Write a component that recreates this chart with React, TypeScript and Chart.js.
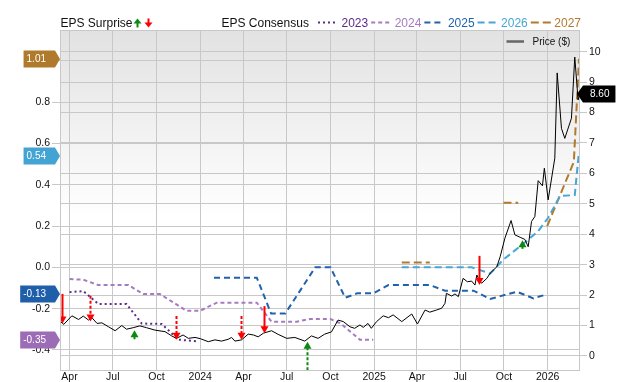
import React, { useEffect, useRef } from "react";
import { Chart, registerables } from "chart.js";

Chart.register(...registerables);

const FONT = "'Liberation Sans', Arial, Helvetica, sans-serif";

// ---------- axes ----------
const xStart = "2023-03-12";
const xEnd = "2026-03-10";
const xTickDates = [
  "2023-04-01", "2023-07-01", "2023-10-01", "2024-01-01",
  "2024-04-01", "2024-07-01", "2024-10-01", "2025-01-01",
  "2025-04-01", "2025-07-01", "2025-10-01", "2026-01-01",
];
const xTickLabels = ["Apr", "Jul", "Oct", "2024", "Apr", "Jul", "Oct", "2025", "Apr", "Jul", "Oct", "2026"];

const epsMin = -0.497;
const epsMax = 1.149;
const epsTicks = [-0.4, -0.2, 0, 0.2, 0.4, 0.6, 0.8, 1.0];

const priceMin = -0.46;
const priceMax = 10.71;
const priceTicks = [0, 1, 2, 3, 4, 5, 6, 7, 8, 9, 10];

// ---------- price ($) ----------
const priceDates = [
  "2023-03-13", "2023-03-20", "2023-04-06", "2023-04-20", "2023-04-30", "2023-05-11", "2023-05-18",
  "2023-05-29", "2023-06-08", "2023-06-22", "2023-07-06", "2023-07-20", "2023-07-30", "2023-08-13",
  "2023-08-27", "2023-09-10", "2023-09-28", "2023-10-19", "2023-11-02", "2023-11-12", "2023-11-26",
  "2023-12-07", "2023-12-21", "2024-01-01", "2024-01-18", "2024-02-01", "2024-02-15", "2024-02-29",
  "2024-03-07", "2024-03-14", "2024-03-28", "2024-04-11", "2024-04-22", "2024-05-02", "2024-05-13",
  "2024-05-30", "2024-06-13", "2024-07-01", "2024-07-18", "2024-08-08", "2024-08-22", "2024-09-05",
  "2024-09-19", "2024-10-03", "2024-10-17", "2024-10-28", "2024-11-11", "2024-11-21", "2024-12-02",
  "2024-12-09", "2024-12-19", "2024-12-26", "2025-01-06", "2025-01-20", "2025-01-31", "2025-02-10",
  "2025-02-28", "2025-03-21", "2025-04-02", "2025-04-18", "2025-04-28", "2025-05-12", "2025-05-23",
  "2025-05-30", "2025-06-02", "2025-06-13", "2025-06-20", "2025-06-27", "2025-07-07", "2025-07-16",
  "2025-07-25", "2025-08-01", "2025-08-05", "2025-08-10", "2025-08-15", "2025-08-26", "2025-09-02",
  "2025-09-16", "2025-09-23", "2025-10-03", "2025-10-16", "2025-10-24", "2025-11-04", "2025-11-14",
  "2025-11-21", "2025-11-28", "2025-12-05", "2025-12-12", "2025-12-21", "2025-12-25", "2026-01-02",
  "2026-01-16", "2026-01-21", "2026-01-30", "2026-02-06", "2026-02-20", "2026-02-27", "2026-03-06",
  "2026-03-09",
];
const priceValues = [
  1.13, 1.04, 1.32, 1.2, 1.31, 1.18, 1.26,
  1.07, 1.09, 0.96, 0.83, 1.0, 0.88, 0.93,
  0.99, 0.93, 0.85, 0.8, 0.66, 0.58, 0.69,
  0.58, 0.61, 0.57, 0.47, 0.53, 0.49, 0.55,
  0.61, 0.49, 0.53, 0.72, 0.69, 0.63, 0.75,
  0.83, 0.71, 0.58, 0.61, 0.49, 0.66, 0.58,
  0.72, 0.79, 1.18, 1.13, 0.96, 0.91, 1.02,
  0.94, 1.07, 0.91, 1.13, 1.32, 1.26, 1.35,
  1.13, 1.38, 1.05, 1.51, 1.44, 1.51, 1.57,
  1.73, 2.06, 1.97, 2.04, 1.95, 2.55, 2.44,
  2.46, 2.33, 2.66, 2.49, 2.39, 2.55, 2.72,
  2.93, 3.26, 3.87, 4.45, 3.98, 3.9, 3.83,
  3.59, 4.42, 4.58, 5.76, 5.59, 6.17, 5.13,
  6.5, 9.3, 7.48, 7.15, 7.81, 9.82, 8.41,
  8.6,
];

// ---------- EPS consensus by fiscal year ----------
const cons2023Dates = ["2023-04-01", "2023-04-30", "2023-06-01", "2023-07-30", "2023-08-31", "2023-10-12", "2023-11-16", "2023-12-25"];
const cons2023Values = [-0.12, -0.115, -0.178, -0.178, -0.272, -0.274, -0.35, -0.358];

const cons2024Dates = [
  "2023-04-01", "2023-04-30", "2023-06-01", "2023-08-03", "2023-09-03", "2023-10-08", "2023-12-03",
  "2024-01-01", "2024-02-05", "2024-04-29", "2024-05-30", "2024-07-22", "2024-08-19", "2024-10-01",
  "2024-10-22", "2024-12-02", "2024-12-30",
];
const cons2024Values = [
  -0.057, -0.06, -0.086, -0.086, -0.129, -0.129, -0.21,
  -0.21, -0.171, -0.171, -0.263, -0.263, -0.25, -0.25,
  -0.271, -0.35, -0.35,
];

const cons2025Dates = [
  "2024-01-30", "2024-04-29", "2024-05-29", "2024-06-28", "2024-08-30", "2024-10-01", "2024-11-01",
  "2024-11-26", "2024-12-30", "2025-01-31", "2025-04-28", "2025-05-30", "2025-07-29", "2025-09-02",
  "2025-10-28", "2025-12-02", "2025-12-31",
];
const cons2025Values = [
  -0.05, -0.05, -0.223, -0.223, 0.0, 0.0, -0.147,
  -0.126, -0.126, -0.086, -0.086, -0.113, -0.113, -0.153,
  -0.118, -0.15, -0.13,
];

const cons2026Dates = [
  "2025-02-28", "2025-07-25", "2025-09-02", "2025-10-01", "2025-11-14", "2025-12-12", "2026-01-02",
  "2026-01-27", "2026-02-27", "2026-03-07",
];
const cons2026Values = [0.0, 0.0, -0.03, 0.04, 0.12, 0.175, 0.24, 0.345, 0.35, 0.54];

const cons2027Dates = [
  "2025-02-28", "2025-04-28", "2025-06-15", "2025-09-30", "2025-10-31", "2025-12-01",
  "2025-12-31", "2026-02-25", "2026-03-08",
];
const cons2027Values = [0.024, 0.024, null, 0.313, 0.313, null, 0.2, 0.51, 1.01];

const seriesNames = ["2023", "2024", "2025", "2026", "2027"];
const seriesColors = ["#5B2C8A", "#A57BC2", "#2262AD", "#47A6D6", "#B17A2E"];
const seriesDashes = [[2, 3], [4, 3], [6, 4], [7, 4], [8, 4]];

// ---------- latest consensus badges ----------
const badgeValues = [1.01, 0.54, -0.13, -0.35];
const badgeLabels = ["1.01", "0.54", "-0.13", "-0.35"];
const badgeColors = ["#B07A2C", "#43A3D3", "#1F5FAA", "#9C6DB6"];
const lastPrice = 8.6;
const lastPriceLabel = "8.60";

// ---------- EPS surprise arrows (on price axis) ----------
const surpriseDates = [
  "2023-03-16", "2023-05-14", "2023-08-15", "2023-11-12", "2024-03-27",
  "2024-05-14", "2024-08-13", "2025-08-10", "2025-11-08",
];
const surpriseTail = [2.04, 1.98, 0.55, 1.31, 1.31, 1.64, -0.8, 3.29, 3.52];
const surpriseTip = [1.07, 1.13, 0.85, 0.53, 0.53, 0.75, 0.47, 2.33, 3.8];
const surpriseDotted = [false, true, false, true, true, false, true, false, false];

function day(s: string): number {
  const [y, m, d] = s.split("-").map(Number);
  return Date.UTC(y, m - 1, d) / 864e5;
}
function pts(dates: string[], values: (number | null)[]) {
  return dates.map((d, i) => ({ x: day(d), y: values[i] }));
}

function drawArrow(ctx: CanvasRenderingContext2D, x: number, y0: number, y1: number, color: string, dotted: boolean, head = 7, hw = 4, lw = 2) {
  const dir = y1 > y0 ? 1 : -1;
  ctx.strokeStyle = color;
  ctx.fillStyle = color;
  ctx.lineWidth = lw;
  const shaftEnd = y1 - dir * head;
  if ((shaftEnd - y0) * dir > 0) {
    ctx.setLineDash(dotted ? [3, 2] : []);
    ctx.beginPath();
    ctx.moveTo(x, y0);
    ctx.lineTo(x, shaftEnd + dir * 1);
    ctx.stroke();
  }
  ctx.setLineDash([]);
  ctx.beginPath();
  ctx.moveTo(x - hw, shaftEnd);
  ctx.lineTo(x + hw, shaftEnd);
  ctx.lineTo(x, y1);
  ctx.closePath();
  ctx.fill();
}

const decor = {
  id: "decor",
  beforeDraw(chart: any) {
    const { ctx, chartArea: a } = chart;
    ctx.save();
    ctx.fillStyle = "#ffffff";
    ctx.fillRect(0, 0, chart.width, chart.height);
    const g = ctx.createLinearGradient(0, a.top, 0, a.bottom);
    g.addColorStop(0, "#e2e2e2");
    g.addColorStop(0.55, "#ffffff");
    g.addColorStop(1, "#ffffff");
    ctx.fillStyle = g;
    ctx.fillRect(a.left, a.top, a.right - a.left, a.bottom - a.top);
    ctx.restore();
  },
  afterDatasetsDraw(chart: any) {
    const { ctx, chartArea: a } = chart;
    const xs = chart.scales.x;
    const ys = chart.scales.yR;
    ctx.save();
    ctx.beginPath();
    ctx.rect(a.left, a.top, a.right - a.left, a.bottom - a.top);
    ctx.clip();
    surpriseDates.forEach((d, i) => {
      const x = Math.round(xs.getPixelForValue(day(d))) + 0.5;
      const y0 = ys.getPixelForValue(surpriseTail[i]);
      const y1 = ys.getPixelForValue(surpriseTip[i]);
      const up = surpriseTip[i] > surpriseTail[i];
      drawArrow(ctx, x, y0, y1, up ? "#0b8a12" : "#ff0000", surpriseDotted[i]);
    });
    ctx.restore();
  },
  afterDraw(chart: any) {
    const { ctx, chartArea: a } = chart;
    const yl = chart.scales.y;
    const yr = chart.scales.yR;
    ctx.save();
    // plot border
    ctx.strokeStyle = "#c8c8c8";
    ctx.lineWidth = 1;
    ctx.strokeRect(a.left + 0.5, a.top + 0.5, a.right - a.left - 1, a.bottom - a.top);

    // left badges
    ctx.font = `10px ${FONT}`;
    ctx.textBaseline = "middle";
    ctx.textAlign = "left";
    badgeValues.forEach((v, i) => {
      const y = Math.round(yl.getPixelForValue(v));
      const txt = badgeLabels[i];
      const w = ctx.measureText(txt).width;
      const tip = a.left;
      const bodyRight = tip - 5;
      const left = bodyRight - w - 12;
      const h = 17;
      ctx.fillStyle = badgeColors[i];
      ctx.beginPath();
      ctx.moveTo(left, y - h / 2);
      ctx.lineTo(bodyRight, y - h / 2);
      ctx.lineTo(tip, y);
      ctx.lineTo(bodyRight, y + h / 2);
      ctx.lineTo(left, y + h / 2);
      ctx.closePath();
      ctx.fill();
      ctx.fillStyle = "#ffffff";
      ctx.fillText(txt, left + 3, y + 0.5);
    });

    // right price badge
    {
      const y = Math.round(yr.getPixelForValue(lastPrice));
      const w = ctx.measureText(lastPriceLabel).width;
      const tip = a.right - 3;
      const bodyLeft = tip + 6;
      const right = bodyLeft + w + 13;
      const h = 17;
      ctx.fillStyle = "#000000";
      ctx.beginPath();
      ctx.moveTo(tip, y);
      ctx.lineTo(bodyLeft, y - h / 2);
      ctx.lineTo(right, y - h / 2);
      ctx.lineTo(right, y + h / 2);
      ctx.lineTo(bodyLeft, y + h / 2);
      ctx.closePath();
      ctx.fill();
      ctx.fillStyle = "#ffffff";
      ctx.fillText(lastPriceLabel, bodyLeft + 7, y + 0.5);
    }

    // top legend
    ctx.font = `12px ${FONT}`;
    ctx.textBaseline = "alphabetic";
    ctx.fillStyle = "#111111";
    ctx.fillText("EPS Surprise", 60.5, 27);
    drawArrow(ctx, 137.5, 27.5, 18.5, "#0b8a12", false, 5, 4, 2);
    drawArrow(ctx, 148.5, 18.5, 27.5, "#ff0000", false, 5, 4, 2);
    ctx.fillStyle = "#111111";
    ctx.fillText("EPS Consensus", 221.5, 27);
    let x = 318;
    seriesNames.forEach((name, i) => {
      ctx.strokeStyle = seriesColors[i];
      ctx.lineWidth = 2;
      ctx.setLineDash(seriesDashes[i]);
      ctx.beginPath();
      ctx.moveTo(x, 22.5);
      ctx.lineTo(x + 20, 22.5);
      ctx.stroke();
      ctx.setLineDash([]);
      ctx.fillStyle = seriesColors[i];
      ctx.fillText(name, x + 23.5, 27);
      x += 23.5 + ctx.measureText(name).width + 3;
    });

    // price legend
    ctx.strokeStyle = "#666666";
    ctx.lineWidth = 2.5;
    ctx.beginPath();
    ctx.moveTo(506.5, 41.5);
    ctx.lineTo(524, 41.5);
    ctx.stroke();
    ctx.font = `10px ${FONT}`;
    ctx.fillStyle = "#111111";
    ctx.textBaseline = "middle";
    ctx.fillText("Price ($)", 532.5, 42);
    ctx.restore();
  },
};

export default function App() {
  const ref = useRef<HTMLCanvasElement | null>(null);
  useEffect(() => {
    document.body.style.margin = "0";
    const canvas = ref.current!;
    const consSets = [
      [cons2023Dates, cons2023Values],
      [cons2024Dates, cons2024Values],
      [cons2025Dates, cons2025Values],
      [cons2026Dates, cons2026Values],
      [cons2027Dates, cons2027Values],
    ] as [string[], (number | null)[]][];
    const datasets: any[] = [
      {
        label: "Price ($)",
        data: pts(priceDates, priceValues),
        yAxisID: "yR",
        borderColor: "#000000",
        borderWidth: 1,
        pointRadius: 0,
        tension: 0,
      },
      ...consSets.map(([d, v], i) => ({
        label: seriesNames[i],
        data: pts(d, v),
        yAxisID: "y",
        borderColor: seriesColors[i],
        borderWidth: 2,
        borderDash: seriesDashes[i],
        pointRadius: 0,
        tension: 0,
        spanGaps: false,
      })),
    ];
    const gridColor = "#c8c8c8";
    const tickFont = { family: FONT, size: 10.5 };
    const chart = new Chart(canvas, {
      type: "line",
      data: { datasets },
      plugins: [decor],
      options: {
        responsive: false,
        animation: false,
        devicePixelRatio: 1,
        layout: { padding: { top: 30, left: 0, right: 0, bottom: 0 } },
        plugins: { legend: { display: false }, tooltip: { enabled: false } },
        scales: {
          x: {
            type: "linear",
            position: "bottom",
            min: day(xStart),
            max: day(xEnd),
            afterBuildTicks: (s: any) => {
              s.ticks = xTickDates.map((d) => ({ value: day(d) }));
            },
            afterFit: (s: any) => {
              s.height = 12;
            },
            ticks: {
              autoSkip: false,
              maxRotation: 0,
              padding: 1,
              color: "#111111",
              font: tickFont,
              callback: (_v: any, i: number) => xTickLabels[i],
            },
            grid: { color: gridColor, drawTicks: false },
            border: { display: false },
          },
          y: {
            type: "linear",
            position: "left",
            min: epsMin,
            max: epsMax,
            afterBuildTicks: (s: any) => {
              s.ticks = epsTicks.map((v) => ({ value: v }));
            },
            afterFit: (s: any) => {
              s.width = 60;
            },
            ticks: {
              padding: 2,
              color: "#111111",
              font: tickFont,
              callback: (v: any) => Number(v).toFixed(1),
            },
            grid: { color: gridColor, tickLength: 8 },
            border: { display: false },
          },
          yR: {
            type: "linear",
            position: "right",
            min: priceMin,
            max: priceMax,
            afterBuildTicks: (s: any) => {
              s.ticks = priceTicks.map((v) => ({ value: v }));
            },
            afterFit: (s: any) => {
              s.width = 60;
            },
            ticks: {
              padding: 2,
              color: "#111111",
              font: tickFont,
              callback: (v: any) => String(v),
            },
            grid: { color: gridColor, tickLength: 7 },
            border: { display: false },
          },
        },
      },
    } as any);
    return () => chart.destroy();
  }, []);
  return (
    <div style={{ position: "absolute", left: 0, top: 0, width: 640, height: 382 }}>
      <canvas ref={ref} width={640} height={382} style={{ width: 640, height: 382, display: "block" }} />
    </div>
  );
}
